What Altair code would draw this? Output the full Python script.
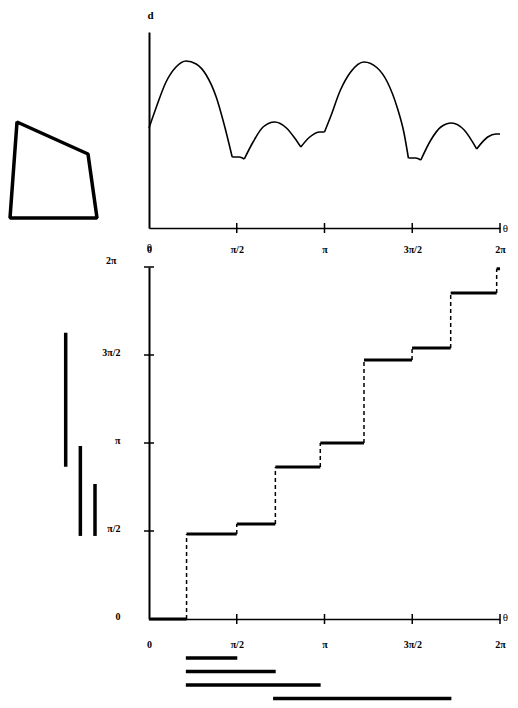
import altair as alt
import pandas as pd

# ---------------- data ----------------
# angle axis ticks (theta in units of pi)
tick_vals = [0, 0.5, 1, 1.5, 2]
tick_labels = ["0", "π/2", "π", "3π/2", "2π"]

# polygon outline (drawing units), path starts and ends on the bottom edge
poly_x = [50, 11, 18, 89, 98, 50]
poly_y = [218, 218, 122, 154, 218, 218]

# top curve d(theta): arcs, theta in units of pi
curve_seg = [0] * 10 + [1] * 3 + [2] * 7 + [3] * 4 + [4] * 10 + [5] * 3 + [6] * 6 + [7] * 4
curve_theta = [0, 0.04, 0.097, 0.154, 0.211, 0.269, 0.326, 0.383, 0.429, 0.474,
               0.474, 0.514, 0.543,
               0.543, 0.593, 0.65, 0.716, 0.783, 0.83, 0.865,
               0.865, 0.916, 0.973, 1.0,
               1.0, 1.034, 1.091, 1.149, 1.225, 1.301, 1.358, 1.415, 1.453, 1.478,
               1.478, 1.52, 1.549,
               1.549, 1.606, 1.663, 1.724, 1.796, 1.867,
               1.867, 1.93, 1.977, 2.0]
curve_d = [100, 120, 146, 161, 167, 164, 153, 131, 103, 71,
           71, 71, 69,
           69, 86, 101, 106, 100, 90, 81,
           81, 91, 96, 96,
           96, 111, 138, 156, 166, 160, 146, 120, 95, 70,
           70, 70, 68,
           68, 88, 101, 105, 98, 79,
           79, 91, 94, 94]

# staircase (theta in units of pi)
step_breaks = [0, 0.214, 0.5, 0.72, 0.976, 1.225, 1.499, 1.719, 1.981, 2.0]
step_levels = [0, 0.483, 0.54, 0.864, 1.0, 1.472, 1.54, 1.852, 1.99]

# vertical intervals at left (theta units of pi)
vbar_start = [0.865, 0.472, 0.472]
vbar_end = [1.627, 0.983, 0.767]

# horizontal intervals below (theta units of pi)
hbar_start = [0.21, 0.21, 0.21, 0.707]
hbar_end = [0.503, 0.722, 0.978, 1.723]

# ---------------- tables ----------------
curve_df = pd.DataFrame({"seg": curve_seg, "theta": curve_theta, "d": curve_d})
poly_df = pd.DataFrame({"i": list(range(len(poly_x))), "px": poly_x, "py": poly_y})
steps_df = pd.DataFrame({"x0": step_breaks[:-1], "x1": step_breaks[1:], "level": step_levels})
risers_df = pd.DataFrame({"x": step_breaks[1:-1], "y0": step_levels[:-1], "y1": step_levels[1:]})
vbar_df = pd.DataFrame({"i": list(range(len(vbar_start))), "s": vbar_start, "e": vbar_end})
hbar_df = pd.DataFrame({"i": list(range(len(hbar_start))), "s": hbar_start, "e": hbar_end})
ticks_df = pd.DataFrame({"v": tick_vals[1:]})

label_expr = " : ".join(f"datum.value == {v} ? '{l}'" for v, l in zip(tick_vals, tick_labels)) + " : ''"

W = 351
H_TOP = 196
H_BOT = 352
BAR_GAP = 13.5
H_BARS = 3 * BAR_GAP
FONT = "Liberation Serif"
INK = "black"


def theta_scale():
    return alt.Scale(domain=[0, 2], nice=False, zero=False)


lab = dict(labelFont=FONT, labelFontSize=10, labelFontWeight="bold", labelColor=INK,
           labelFlush=False, labelOverlap=False)
ttl = dict(titleFont=FONT, titleFontSize=11, titleFontWeight="normal", titleColor=INK,
           titleAngle=0, titleAlign="center", titleBaseline="middle")

# ---------------- row 1: polygon + d(theta) ----------------
curve = alt.Chart(curve_df).mark_line(color=INK, strokeWidth=1.6, interpolate="monotone").encode(
    x=alt.X("theta:Q", scale=theta_scale(), axis=alt.Axis(
        values=tick_vals, labelExpr=label_expr, ticks=False, tickSize=0, labelPadding=21,
        labelBaseline="middle", domainColor=INK, domainWidth=1.5, grid=False,
        title="θ", titleX=356, titleY=0, **lab, **ttl)),
    y=alt.Y("d:Q", scale=alt.Scale(domain=[0, 196], nice=False), axis=alt.Axis(
        labels=False, ticks=False, tickSize=0, domainColor=INK, domainWidth=2, grid=False,
        title="d", titleX=1, titleY=-17, titleFontWeight="bold",
        **{k: v for k, v in ttl.items() if k != "titleFontWeight"})),
    detail="seg:N",
)

top_ticks = alt.Chart(ticks_df).mark_rule(color=INK, strokeWidth=1.5).encode(
    x=alt.X("v:Q", scale=theta_scale(), axis=None),
    y=alt.value(H_TOP - 5), y2=alt.value(H_TOP + 5),
)

poly = alt.Chart(poly_df).mark_line(color=INK, strokeWidth=3.5, strokeJoin="bevel").encode(
    x=alt.X("px:Q", scale=alt.Scale(domain=[0, 100], range=[-150, -50], nice=False, zero=False), axis=None),
    y=alt.Y("py:Q", scale=alt.Scale(domain=[0, 200], range=[-32, 168], nice=False, zero=False), axis=None),
    order="i:Q",
)

row1 = alt.layer(curve, top_ticks, poly).resolve_scale(x="independent", y="independent").properties(
    width=W, height=H_TOP)

# ---------------- row 2: staircase ----------------
steps = alt.Chart(steps_df).mark_rule(color=INK, strokeWidth=3).encode(
    x=alt.X("x0:Q", scale=theta_scale(), axis=alt.Axis(
        values=tick_vals, labelExpr=label_expr, ticks=False, tickSize=0, labelPadding=25,
        labelBaseline="middle", domainColor=INK, domainWidth=1.5, grid=False,
        title="θ", titleX=356, titleY=-2, **lab, **ttl)),
    x2="x1:Q",
    y=alt.Y("level:Q", scale=theta_scale(), axis=alt.Axis(
        values=tick_vals, labelExpr=label_expr, ticks=False, tickSize=0,
        labelPadding={"condition": {"test": "datum.value == 2", "value": 33}, "value": 29},
        labelOffset={"condition": {"test": "datum.value == 2", "value": -7}, "value": -3},
        labelAlign="right", labelBaseline="middle", domainColor=INK, domainWidth=2, grid=False,
        title="θ", titleX=0, titleY=-20, **lab, **ttl)),
)

risers = alt.Chart(risers_df).mark_rule(color=INK, strokeWidth=1.5, strokeDash=[4, 3]).encode(
    x=alt.X("x:Q", scale=theta_scale(), axis=None),
    y=alt.Y("y0:Q", scale=theta_scale(), axis=None),
    y2="y1:Q",
)

bx_ticks = alt.Chart(ticks_df).mark_rule(color=INK, strokeWidth=1.5).encode(
    x=alt.X("v:Q", scale=theta_scale(), axis=None),
    y=alt.value(H_BOT - 5), y2=alt.value(H_BOT + 5),
)

by_ticks = alt.Chart(ticks_df).mark_rule(color=INK, strokeWidth=1.5).encode(
    y=alt.Y("v:Q", scale=theta_scale(), axis=None),
    x=alt.value(-5), x2=alt.value(5),
)

vbars = alt.Chart(vbar_df).mark_rule(color=INK, strokeWidth=3.5).encode(
    x=alt.X("i:Q", scale=alt.Scale(domain=[0, 2], range=[-83.3, -54], nice=False, zero=False), axis=None),
    y=alt.Y("s:Q", scale=theta_scale(), axis=None),
    y2="e:Q",
)

row2 = alt.layer(steps, risers, bx_ticks, by_ticks, vbars).resolve_scale(
    x="independent", y="independent").properties(width=W, height=H_BOT)

# ---------------- row 3: horizontal intervals ----------------
row3 = alt.Chart(hbar_df).mark_bar(color=INK, size=3.5, orient="horizontal").encode(
    x=alt.X("s:Q", scale=alt.Scale(domain=[0, 2], nice=False, zero=False, padding=0), axis=None),
    x2="e:Q",
    y=alt.Y("i:Q", scale=alt.Scale(domain=[0, 3], reverse=True, nice=False, zero=False, padding=0), axis=None),
).properties(width=W, height=H_BARS)

chart = alt.vconcat(row1, row2, row3, spacing=39, bounds="flush").configure_view(
    stroke=None).properties(padding={"left": 0, "top": 1, "right": 0, "bottom": 0}, background="white")

chart.save("out.html", embed_options={"renderer": "svg", "actions": False})
